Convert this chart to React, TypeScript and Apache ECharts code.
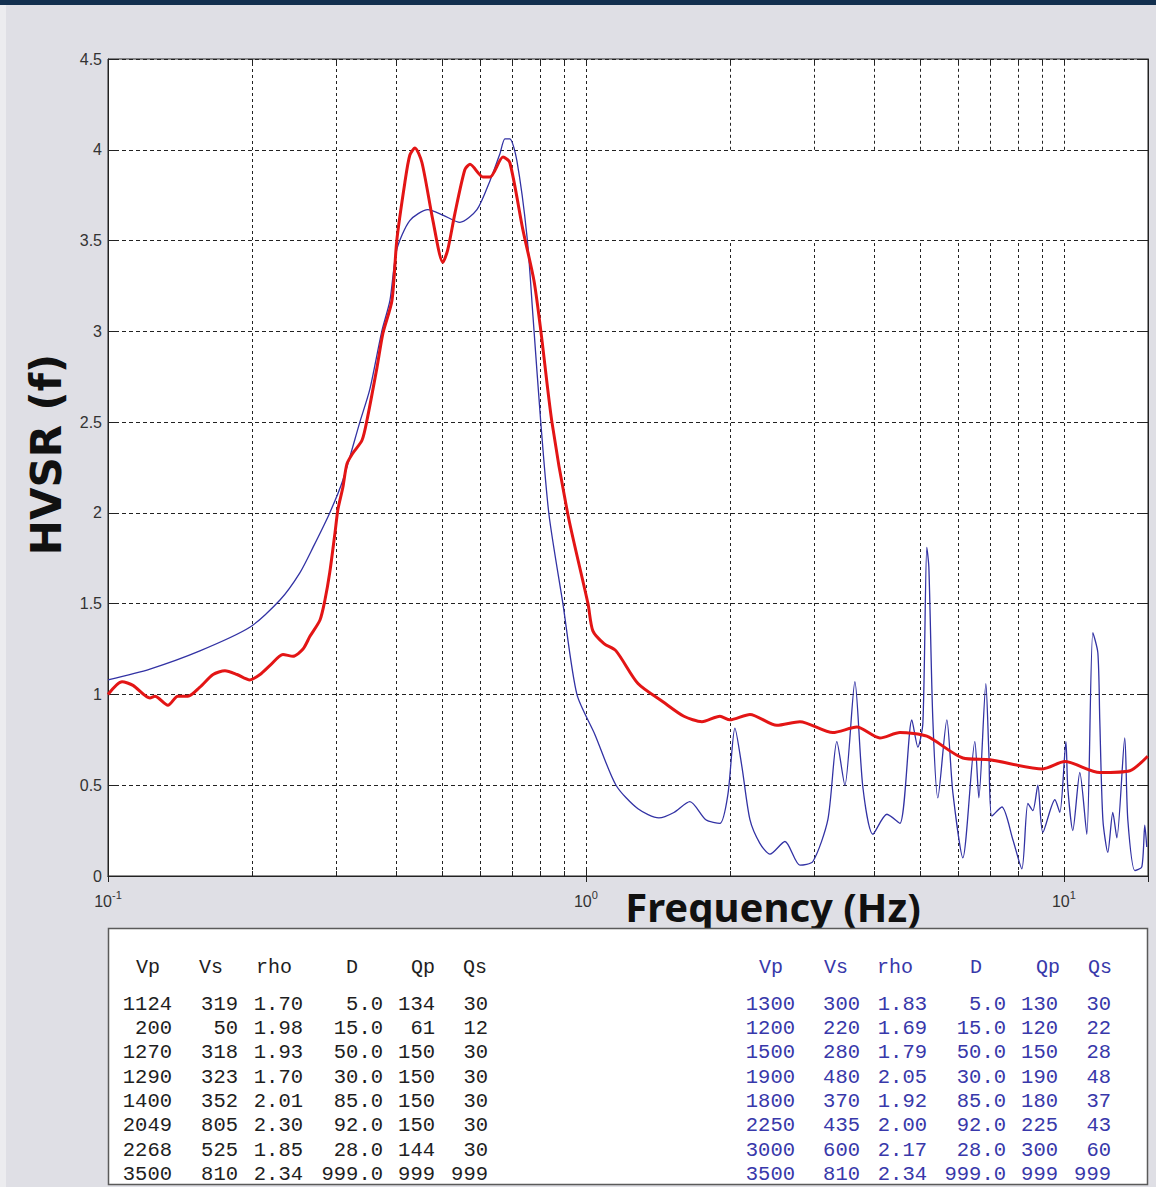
import React, { useEffect, useRef } from "react";
import * as echarts from "echarts";

// ---------- data ----------
const measFreq = [
  0.1, 0.107, 0.1128, 0.1224, 0.1254, 0.1335, 0.14, 0.147, 0.1557, 0.1659, 0.1757, 0.1862, 0.198, 0.208,
  0.2183, 0.2323, 0.2438, 0.2559, 0.2646, 0.2777, 0.2844, 0.291, 0.2985, 0.3028, 0.31, 0.3162, 0.3255,
  0.34, 0.3482, 0.3654, 0.3761, 0.3928, 0.402, 0.418, 0.428, 0.4388, 0.4538, 0.4785, 0.502, 0.514,
  0.532, 0.558, 0.572, 0.609, 0.63, 0.6706, 0.693, 0.738, 0.7785, 0.805, 0.849, 0.917, 1.01, 1.034,
  1.091, 1.156, 1.285, 1.449, 1.603, 1.749, 1.907, 2.001, 2.204, 2.509, 2.804, 3.286, 3.689, 4.123,
  4.54, 5.168, 6.147, 7.002, 9.038, 10.05, 11.89, 13.75, 14.98,
];
const measHvsr = [
  1.0, 1.07, 1.05, 0.98, 0.99, 0.94, 0.99, 0.99, 1.04, 1.11, 1.13, 1.11, 1.08, 1.11,
  1.16, 1.22, 1.21, 1.25, 1.32, 1.41, 1.52, 1.67, 1.89, 2.02, 2.14, 2.27, 2.33,
  2.4, 2.51, 2.8, 2.99, 3.17, 3.5, 3.82, 3.97, 4.01, 3.93, 3.61, 3.38, 3.45,
  3.65, 3.89, 3.92, 3.85, 3.85, 3.96, 3.93, 3.56, 3.28, 3.0, 2.5, 1.99, 1.5, 1.35,
  1.28, 1.24, 1.06, 0.96, 0.88, 0.85, 0.88, 0.86, 0.89, 0.83, 0.85, 0.79, 0.82, 0.76,
  0.79, 0.77, 0.65, 0.64, 0.59, 0.63, 0.57, 0.58, 0.66,
];

const modelFreq = [
  0.1, 0.1224, 0.1557, 0.198, 0.229, 0.252, 0.2685, 0.291, 0.31, 0.3365, 0.353, 0.374, 0.389, 0.402,
  0.428, 0.467, 0.502, 0.545, 0.5915, 0.63, 0.661, 0.677, 0.693, 0.717, 0.753, 0.775, 0.805, 0.837,
  0.895, 0.9575, 1.044, 1.156, 1.285, 1.421, 1.528, 1.65, 1.782, 1.907, 1.982, 2.05, 2.121, 2.204,
  2.312, 2.427, 2.609, 2.804, 2.985, 3.208, 3.35, 3.482, 3.654, 3.797, 3.985, 4.264, 4.54, 4.808,
  4.949, 5.07, 5.168, 5.219, 5.32, 5.45, 5.691, 5.858, 6.147, 6.513, 6.64, 6.868, 6.968, 7.07, 7.42,
  7.823, 8.169, 8.409, 8.613, 8.823, 9.038, 9.577, 9.809, 10.1, 10.19, 10.44, 10.8, 11.17, 11.5,
  11.78, 11.89, 12.07, 12.36, 12.66, 12.91, 13.41, 13.61, 14.08, 14.56, 14.77, 14.91,
];
const modelHvsr = [
  1.08, 1.14, 1.24, 1.37, 1.52, 1.67, 1.81, 2.0, 2.18, 2.5, 2.68, 3.0, 3.17, 3.45,
  3.61, 3.67, 3.64, 3.6, 3.67, 3.83, 3.98, 4.06, 4.06, 3.94, 3.52, 3.08, 2.49, 1.99,
  1.5, 1.0, 0.78, 0.5, 0.37, 0.32, 0.35, 0.41, 0.31, 0.29, 0.45, 0.815, 0.6, 0.31,
  0.18, 0.12, 0.19, 0.06, 0.08, 0.31, 0.74, 0.5, 1.07, 0.49, 0.23, 0.34, 0.29, 0.86,
  0.71, 0.84, 1.81, 1.7, 0.86, 0.43, 0.86, 0.46, 0.1, 0.74, 0.43, 1.06, 0.68, 0.33, 0.38,
  0.2, 0.04, 0.4, 0.36, 0.5, 0.24, 0.42, 0.35, 0.74, 0.49, 0.25, 0.57, 0.23, 1.34,
  1.23, 0.86, 0.31, 0.13, 0.35, 0.21, 0.76, 0.31, 0.03, 0.05, 0.28, 0.16,
];

// vertical grid lines of the log axis (decade multiples)
const gridFreq = [0.2, 0.3, 0.4, 0.5, 0.6, 0.7, 0.8, 0.9, 1, 2, 3, 4, 5, 6, 7, 8, 9, 10];
// blanked (legend) band in the upper right of the plot: y range and first frequency
const blankBand = [3.5, 4.0];
const blankFromFreq = 1.5;

const tableHeaders = ["Vp", "Vs", "rho", "D", "Qp", "Qs"];
const leftVp = [1124, 200, 1270, 1290, 1400, 2049, 2268, 3500];
const leftVs = [319, 50, 318, 323, 352, 805, 525, 810];
const leftRho = [1.7, 1.98, 1.93, 1.7, 2.01, 2.3, 1.85, 2.34];
const leftD = [5, 15, 50, 30, 85, 92, 28, 999];
const leftQp = [134, 61, 150, 150, 150, 150, 144, 999];
const leftQs = [30, 12, 30, 30, 30, 30, 30, 999];
const rightVp = [1300, 1200, 1500, 1900, 1800, 2250, 3000, 3500];
const rightVs = [300, 220, 280, 480, 370, 435, 600, 810];
const rightRho = [1.83, 1.69, 1.79, 2.05, 1.92, 2.0, 2.17, 2.34];
const rightD = [5, 15, 50, 30, 85, 92, 28, 999];
const rightQp = [130, 120, 150, 190, 180, 225, 300, 999];
const rightQs = [30, 22, 28, 48, 37, 43, 60, 999];

// ---------- layout ----------
const W = 1156;
const H = 1187;
const BG = "#dfdfe5";
const GRID = { left: 108, top: 59, width: 1040, height: 817 };
const Y_MAX = 4.5;
const TICK_FONT = '"Liberation Sans", Arial, sans-serif';
const MONO = '"Courier New", "Liberation Mono", monospace';

function buildTable(): any[] {
  const els: any[] = [];
  const headerY = 967;
  const rowY0 = 1004;
  const rowStep = 24.35;
  const leftEdges = [172, 238, 303, 383, 435, 488];
  const leftHeadEdges = [160, 223, 292, 358, 435, 487];
  const rightEdges = [795, 860, 927, 1006, 1058, 1111];
  const rightHeadEdges = [783, 848, 913, 982, 1060, 1112];
  const leftCols = [
    leftVp.map(String),
    leftVs.map(String),
    leftRho.map((v) => v.toFixed(2)),
    leftD.map((v) => v.toFixed(1)),
    leftQp.map(String),
    leftQs.map(String),
  ];
  const rightCols = [
    rightVp.map(String),
    rightVs.map(String),
    rightRho.map((v) => v.toFixed(2)),
    rightD.map((v) => v.toFixed(1)),
    rightQp.map(String),
    rightQs.map(String),
  ];
  els.push({
    type: "rect",
    z: 10,
    shape: { x: 108.5, y: 928.5, width: 1039, height: 256 },
    style: { fill: "#ffffff", stroke: "#5a5a5a", lineWidth: 1.5 },
  });
  const addBlock = (cols: string[][], edges: number[], headEdges: number[], color: string) => {
    tableHeaders.forEach((h, c) => {
      els.push({
        type: "text",
        z: 11,
        x: headEdges[c],
        y: headerY,
        style: { text: h, font: `20px ${MONO}`, fill: color, align: "right", verticalAlign: "middle" },
      });
    });
    cols.forEach((col, c) => {
      col.forEach((txt, r) => {
        els.push({
          type: "text",
          z: 11,
          x: edges[c],
          y: rowY0 + r * rowStep,
          style: { text: txt, font: `20.5px ${MONO}`, fill: color, align: "right", verticalAlign: "middle" },
        });
      });
    });
  };
  addBlock(leftCols, leftEdges, leftHeadEdges, "#1e1e1e");
  addBlock(rightCols, rightEdges, rightHeadEdges, "#3838aa");
  return els;
}

export default function App() {
  const ref = useRef<HTMLDivElement>(null);
  useEffect(() => {
    if (!ref.current) return;
    const chart = echarts.init(ref.current, null, { renderer: "svg" });
    const xLabelFormatter = (v: number) => {
      const e = Math.log10(v);
      const r = Math.round(e);
      if (Math.abs(e - r) > 1e-6) return "";
      return `{b|10}{s|${r}}`;
    };
    const dashed = { stroke: "#222", lineWidth: 1, lineDash: [3, 3] };
    const solid = { stroke: "#222", lineWidth: 1 };
    const option: any = {
      animation: false,
      backgroundColor: BG,
      grid: {
        ...GRID,
        show: true,
        backgroundColor: "#ffffff",
        borderColor: "#222",
        borderWidth: 1,
      },
      xAxis: [
        {
          type: "log",
          logBase: 10,
          min: 0.1,
          max: 15,
          position: "bottom",
          axisLine: { show: true, lineStyle: { color: "#222", width: 1 } },
          axisTick: { show: true, inside: true, length: 6, lineStyle: { color: "#222" } },
          axisLabel: {
            formatter: xLabelFormatter,
            margin: 13,
            rich: {
              b: { fontSize: 16, fontFamily: TICK_FONT, color: "#333", lineHeight: 24 },
              s: { fontSize: 11, fontFamily: TICK_FONT, color: "#333", lineHeight: 8, verticalAlign: "top" },
            },
          },
          splitLine: { show: false },
        },
        {
          type: "log",
          logBase: 10,
          min: 0.1,
          max: 15,
          position: "top",
          axisLine: { show: true, lineStyle: { color: "#222", width: 1 } },
          axisTick: { show: true, inside: true, length: 6, lineStyle: { color: "#222" } },
          axisLabel: { show: false },
          splitLine: { show: false },
        },
      ],
      yAxis: [
        {
          type: "value",
          min: 0,
          max: Y_MAX,
          interval: 0.5,
          position: "left",
          axisLine: { show: true, lineStyle: { color: "#222", width: 1 } },
          axisTick: { show: true, inside: true, length: 8, lineStyle: { color: "#222" } },
          axisLabel: { fontSize: 16, fontFamily: TICK_FONT, color: "#333", margin: 6 },
          splitLine: { show: true, lineStyle: { color: "#222", type: [4, 3], width: 1 } },
          name: "HVSR (f)",
          nameLocation: "middle",
          nameGap: 41,
          nameTextStyle: {
            fontFamily: '"DejaVu Sans", sans-serif',
            fontWeight: "bold",
            fontSize: 42,
            color: "#111",
            padding: [0, 0, 0, 26],
          },
        },
        {
          type: "value",
          min: 0,
          max: Y_MAX,
          interval: 0.5,
          position: "right",
          axisLine: { show: true, lineStyle: { color: "#222", width: 1 } },
          axisTick: { show: true, inside: true, length: 8, lineStyle: { color: "#222" } },
          axisLabel: { show: false },
          splitLine: { show: false },
        },
      ],
      series: [
        {
          type: "custom",
          name: "grid",
          z: 1,
          silent: true,
          xAxisIndex: 0,
          yAxisIndex: 0,
          data: gridFreq.map((f) => [f, 0]),
          encode: { x: 0, y: 1 },
          clip: false,
          renderItem: (params: any, api: any) => {
            const v = api.value(0);
            const b = api.coord([v, 0]);
            const t = api.coord([v, Y_MAX]);
            const x = Math.round(b[0]) + 0.5;
            const children: any[] = [];
            if (v > blankFromFreq) {
              const lo = api.coord([v, blankBand[0]]);
              const hi = api.coord([v, blankBand[1]]);
              children.push({ type: "line", shape: { x1: x, y1: b[1], x2: x, y2: lo[1] }, style: dashed });
              children.push({ type: "line", shape: { x1: x, y1: hi[1], x2: x, y2: t[1] }, style: dashed });
            } else {
              children.push({ type: "line", shape: { x1: x, y1: b[1], x2: x, y2: t[1] }, style: dashed });
            }
            children.push({ type: "line", shape: { x1: x, y1: b[1], x2: x, y2: b[1] - 5 }, style: solid });
            children.push({ type: "line", shape: { x1: x, y1: t[1], x2: x, y2: t[1] + 5 }, style: solid });
            return { type: "group", children };
          },
        },
        {
          type: "line",
          name: "model",
          z: 3,
          xAxisIndex: 0,
          yAxisIndex: 0,
          showSymbol: false,
          smooth: 0.25,
          data: modelFreq.map((f, i) => [f, modelHvsr[i]]),
          lineStyle: { color: "#3232a4", width: 1.3 },
        },
        {
          type: "line",
          name: "measured",
          z: 4,
          xAxisIndex: 0,
          yAxisIndex: 0,
          showSymbol: false,
          smooth: 0.25,
          data: measFreq.map((f, i) => [f, measHvsr[i]]),
          lineStyle: { color: "#e31515", width: 3 },
        },
      ],
      graphic: [
        { type: "rect", z: 0, shape: { x: 0, y: 0, width: W, height: 5 }, style: { fill: "#13304f" } },
        { type: "rect", z: 0, shape: { x: 0, y: 5, width: 6, height: H }, style: { fill: "#ececef" } },
        {
          type: "text",
          z: 5,
          x: 773,
          y: 906,
          style: {
            text: "Frequency (Hz)",
            font: 'bold 40px "Noto Sans", sans-serif',
            fill: "#111",
            align: "center",
            verticalAlign: "middle",
          },
        },
        ...buildTable(),
      ],
    };
    chart.setOption(option);
    return () => chart.dispose();
  }, []);
  return (
    <div
      ref={ref}
      style={{ position: "absolute", left: 0, top: 0, width: W, height: H }}
    />
  );
}
